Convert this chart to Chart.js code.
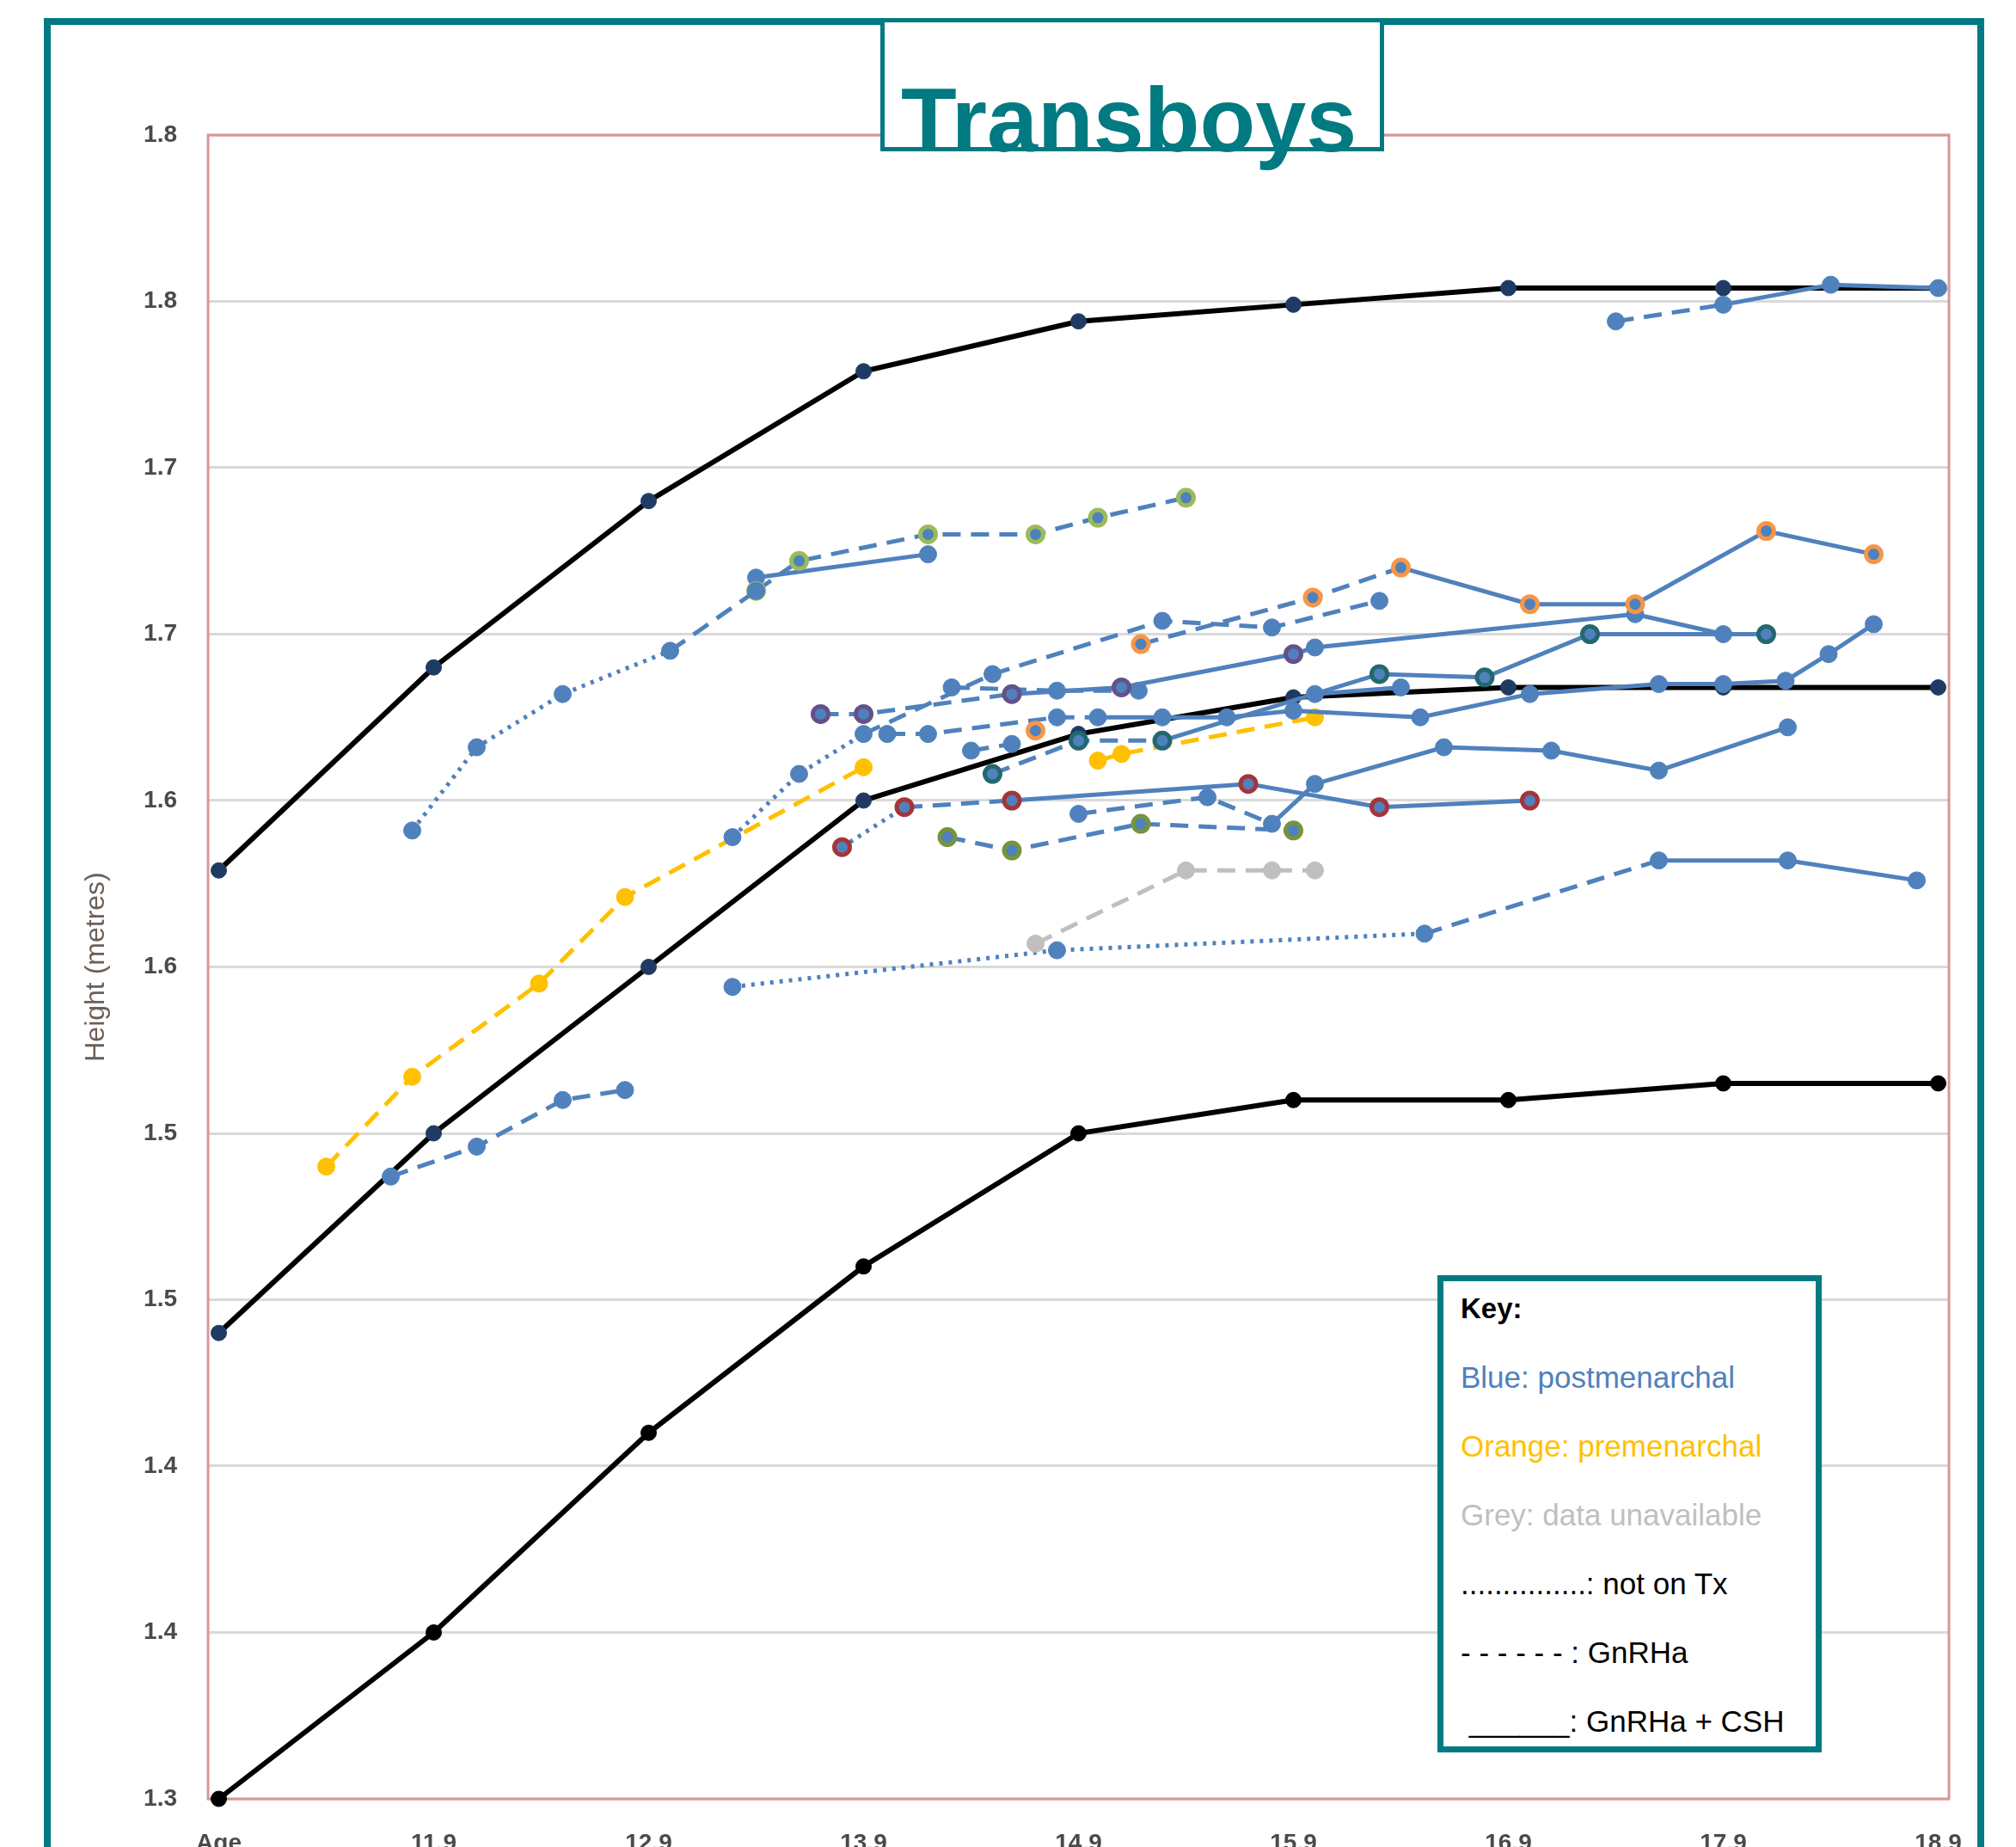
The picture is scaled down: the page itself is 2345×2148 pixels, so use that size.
<!DOCTYPE html>
<html>
<head>
<meta charset="utf-8">
<title>Transboys</title>
<script src="https://cdn.jsdelivr.net/npm/chart.js@4.4.1/dist/chart.umd.min.js"></script>
<style>
  html, body { margin: 0; padding: 0; background: #fff; width: 2345px; height: 2148px; overflow: hidden;
               font-family: "Liberation Sans", Arial, sans-serif; }
  #frame { position: absolute; left: 51px; top: 21px; width: 2241px; height: 2400px; border: 8px solid #027a82; }
  #chart { position: absolute; left: 0; top: 0; }
  #titleBox { position: absolute; left: 1024px; top: 21px; width: 576px; height: 145px;
              border: 5px solid #027a82; background: #fff; }
  #title { position: absolute; left: 1013px; width: 600px; top: 86px; text-align: center;
           font-size: 106px; line-height: 106px; font-weight: bold; color: #027a82; }
  #key { position: absolute; left: 1672px; top: 1483px; width: 413px; height: 541px;
         border: 7px solid #027a82; background: #fff; padding-left: 20px; box-sizing: content-box; }
  #key .rows { margin-top: -8px; }
  #key .row { height: 80px; line-height: 80px; font-size: 35px; white-space: nowrap; color: #000; }
  #key .head { font-weight: bold; font-size: 33px; }
</style>
</head>
<body>
<div id="frame"></div>
<canvas id="chart" width="2345" height="2148"></canvas>
<div id="titleBox"></div>
<div id="title">Transboys</div>
<div id="key">
  <div class="rows">
    <div class="row head">Key:</div>
    <div class="row" style="color:#4f81bd">Blue: postmenarchal</div>
    <div class="row" style="color:#ffc000">Orange: premenarchal</div>
    <div class="row" style="color:#bfbfbf">Grey: data unavailable</div>
    <div class="row">...............: not on Tx</div>
    <div class="row">- - - - - - : GnRHa</div>
    <div class="row">&nbsp;______: GnRHa + CSH</div>
  </div>
</div>
<script>
// axis ticks
const xTickValues = [10.9, 11.9, 12.9, 13.9, 14.9, 15.9, 16.9, 17.9, 18.9];
const xTickLabels = ['Age', '11.9', '12.9', '13.9', '14.9', '15.9', '16.9', '17.9', '18.9'];
const yTickLabels = ['1.3', '1.4', '1.4', '1.5', '1.5', '1.6', '1.6', '1.7', '1.7', '1.8', '1.8'];

// reference centile curves (one value per x tick)
const centileHigh = [1.579, 1.640, 1.690, 1.729, 1.744, 1.749, 1.754, 1.754, 1.754];
const centileMid  = [1.440, 1.500, 1.550, 1.600, 1.620, 1.631, 1.634, 1.634, 1.634];
const centileLow  = [1.300, 1.350, 1.410, 1.460, 1.500, 1.510, 1.510, 1.515, 1.515];

// individual patients: [age, height]
const ptTop      = [[17.40, 1.744], [17.90, 1.749], [18.40, 1.755], [18.90, 1.754]];
const ptDotA     = [[11.80, 1.591], [12.10, 1.616], [12.50, 1.632], [13.00, 1.645], [13.40, 1.663]];
const ptGreenA   = [[13.40, 1.663], [13.60, 1.672], [14.20, 1.680], [14.70, 1.680], [14.99, 1.685], [15.40, 1.691]];
const ptSolidA   = [[13.40, 1.667], [14.20, 1.674]];
const ptOrange   = [[15.19, 1.647], [15.99, 1.661], [16.40, 1.670], [17.00, 1.659], [17.49, 1.659], [18.10, 1.681], [18.60, 1.674]];
const ptOrangeB  = [[14.70, 1.621]];
const ptPurple   = [[13.70, 1.626], [13.90, 1.626], [14.59, 1.632], [15.10, 1.634], [15.90, 1.644], [16.00, 1.646], [17.49, 1.656], [17.90, 1.650]];
const ptDashM2   = [[13.29, 1.589], [13.60, 1.608], [13.90, 1.620], [14.50, 1.638], [15.29, 1.654], [15.80, 1.652], [16.30, 1.660]];
const ptTeal     = [[14.50, 1.608], [14.90, 1.618], [15.29, 1.618], [16.30, 1.638], [16.79, 1.637], [17.28, 1.650], [18.10, 1.650]];
const ptM3       = [[14.01, 1.620], [14.20, 1.620], [14.80, 1.625], [14.99, 1.625], [15.29, 1.625], [15.59, 1.625], [15.90, 1.627],
                    [16.49, 1.625], [17.00, 1.632], [17.60, 1.635], [17.90, 1.635], [18.19, 1.636], [18.39, 1.644], [18.60, 1.653]];
const ptM4       = [[14.31, 1.634], [14.80, 1.633], [15.18, 1.633]];
const ptM5       = [[14.40, 1.615], [14.59, 1.617]];
const ptM6       = [[16.00, 1.632], [16.40, 1.634]];
const ptC        = [[14.90, 1.596], [15.50, 1.601], [15.80, 1.593], [16.00, 1.605], [16.60, 1.616], [17.10, 1.615], [17.60, 1.609], [18.20, 1.622]];
const ptRed      = [[13.80, 1.586], [14.09, 1.598], [14.59, 1.600], [15.69, 1.605], [16.30, 1.598], [17.00, 1.600]];
const ptOlive    = [[14.29, 1.589], [14.59, 1.585], [15.19, 1.593], [15.90, 1.591]];
const ptGrey     = [[14.70, 1.557], [15.40, 1.579], [15.80, 1.579], [16.00, 1.579]];
const ptLow      = [[13.29, 1.544], [14.80, 1.555], [16.51, 1.560], [17.60, 1.582], [18.20, 1.582], [18.80, 1.576]];
const ptDashB    = [[11.70, 1.487], [12.10, 1.496], [12.50, 1.510], [12.79, 1.513]];
const ptYellowA  = [[11.40, 1.490], [11.80, 1.517], [12.39, 1.545], [12.79, 1.571], [13.90, 1.610]];
const ptYellowB  = [[14.99, 1.612], [15.10, 1.614], [16.00, 1.625]];

const BLUE = '#4f81bd';
const YELLOW = '#ffc000';
const GREY = '#bfbfbf';

function dashFor(c) {
  if (c === 'd') return [21, 12];
  if (c === 'o') return [4, 7];
  return [];
}

// segs: one letter per segment (s solid, d dashed, o dotted)
function patient(points, segs, ring, ringCount, color) {
  color = color || BLUE;
  const n = ringCount === undefined ? points.length : ringCount;
  const ringed = i => ring && i < n;
  return {
    data: points.map(p => ({ x: p[0], y: p[1] })),
    borderColor: color,
    borderWidth: 5,
    pointRadius: ctx => ringed(ctx.dataIndex) ? 9 : 10,
    pointBackgroundColor: color,
    pointBorderColor: ctx => ringed(ctx.dataIndex) ? ring : color,
    pointBorderWidth: ctx => ringed(ctx.dataIndex) ? 5 : 1,
    segment: { borderDash: ctx => dashFor(segs[ctx.p0DataIndex]) },
    clip: false
  };
}

function centile(values, pointColor) {
  return {
    data: xTickValues.map((x, i) => ({ x: x, y: values[i] })),
    borderColor: '#000',
    borderWidth: 6,
    pointRadius: 9,
    pointBackgroundColor: pointColor,
    pointBorderColor: pointColor,
    pointBorderWidth: 1,
    clip: false
  };
}

const datasets = [
  patient(ptTop, 'dss'),
  patient(ptDotA, 'oood'),
  patient(ptGreenA, 'ddddd', '#9bbb59'),
  patient(ptSolidA, 's'),
  patient(ptOrange, 'ddssss', '#f79646'),
  patient(ptOrangeB, '', '#f79646'),
  patient(ptPurple, 'ddsssss', '#64508a', 5),
  patient(ptDashM2, 'oodddds'),
  patient(ptTeal, 'ddsssss', '#22686f'),
  patient(ptM3, 'dddsssssssssss'),
  patient(ptM4, 'dd'),
  patient(ptM5, 'd'),
  patient(ptM6, 's'),
  patient(ptC, 'ddsssss'),
  patient(ptRed, 'odsss', '#a5343a'),
  patient(ptOlive, 'ddd', '#77933c'),
  patient(ptGrey, 'ddd', null, 0, GREY),
  patient(ptLow, 'oodss'),
  patient(ptDashB, 'ddd'),
  patient(ptYellowA, 'dddd', null, 0, YELLOW),
  patient(ptYellowB, 'dd', null, 0, YELLOW),
  centile(centileHigh, '#1f3b63'),
  centile(centileMid, '#1f3b63'),
  centile(centileLow, '#000')
];

const plotFrame = {
  id: 'plotFrame',
  beforeDatasetsDraw(chart) {
    const { ctx, chartArea: a } = chart;
    ctx.save();
    ctx.strokeStyle = '#d99694';
    ctx.lineWidth = 3;
    ctx.strokeRect(a.left, a.top, a.right - a.left, a.bottom - a.top);
    ctx.restore();
  }
};

const ctx = document.getElementById('chart').getContext('2d');
const chart = new Chart(ctx, {
  type: 'line',
  data: { datasets: datasets },
  plugins: [plotFrame],
  options: {
    responsive: false,
    animation: false,
    devicePixelRatio: 1,
    layout: { padding: { left: 0, top: 157, right: 78, bottom: 0 } },
    plugins: { legend: { display: false }, tooltip: { enabled: false } },
    scales: {
      x: {
        type: 'linear',
        min: 10.85,
        max: 18.95,
        afterBuildTicks: s => { s.ticks = xTickValues.map(v => ({ value: v })); },
        afterFit: s => { s.height = 56; },
        grid: { display: false, drawTicks: false },
        border: { display: false },
        ticks: {
          padding: 35, autoSkip: false, maxRotation: 0,
          font: { family: 'Liberation Sans', size: 28, weight: 'bold' }, color: '#4a4a4a',
          callback: (v, i) => xTickLabels[i]
        }
      },
      y: {
        type: 'linear',
        min: 1.30,
        max: 1.80,
        afterBuildTicks: s => { s.ticks = yTickLabels.map((_, i) => ({ value: 1.30 + i * 0.05 })); },
        afterFit: s => { s.width = 242; },
        grid: { color: '#d9d9d9', lineWidth: 3, drawTicks: false },
        border: { display: false },
        ticks: {
          padding: 36,
          font: { family: 'Liberation Sans', size: 28, weight: 'bold' }, color: '#4a4a4a',
          callback: (v, i) => yTickLabels[i]
        },
        title: {
          display: true, text: 'Height (metres)', color: '#6b5f58',
          font: { family: 'Liberation Sans', size: 32 },
          padding: { top: 93, bottom: 0 }
        }
      }
    }
  }
});
</script>
</body>
</html>
